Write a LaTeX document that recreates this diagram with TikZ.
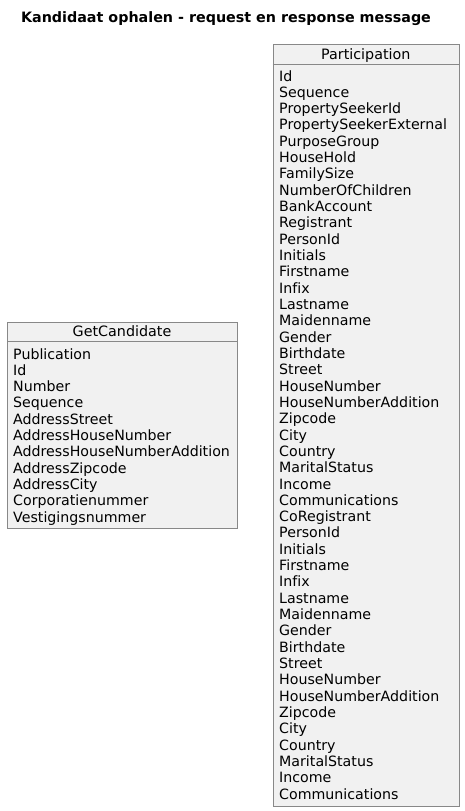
\documentclass[tikz,border=0pt]{standalone}
\usepackage{fontspec}
\setmainfont[Ligatures=CommonOff]{DejaVu Sans}
\usetikzlibrary{positioning}
\definecolor{objfill}{HTML}{F1F1F1}
\definecolor{objborder}{HTML}{888888}

\begin{document}
\begin{tikzpicture}[x=1pt,y=-1pt,
    objbox/.style={draw=objborder,fill=objfill,line width=0.9pt,inner sep=0,anchor=north west},
    objname/.style={inner sep=0,anchor=base,font=\fontsize{14.3}{17}\selectfont},
    attr/.style={inner sep=0,anchor=base west,font=\fontsize{14.2}{17}\selectfont},
    heading/.style={inner sep=0,anchor=base,font=\fontsize{14.3}{17}\selectfont\bfseries}]
  \useasboundingbox (0,0) rectangle (465,811);

  \node[heading] (title) at (226,23) {Kandidaat ophalen - request en response message};

  % request object
  \node[objbox,minimum width=230,minimum height=206.5] (getcand) at (7,321.5) {};
  \draw[objborder,line width=0.9pt] (getcand.north west) ++(0,20) -- ++(230,0);
  \node[objname] (getcand-name) at (122,336) {GetCandidate};
  \foreach \attr [count=\i from 0] in {Publication,Id,Number,Sequence,AddressStreet,
      AddressHouseNumber,AddressHouseNumberAddition,AddressZipcode,AddressCity,
      Corporatienummer,Vestigingsnummer}
    \node[attr] (getcand-\i) at (13,{359+16.3*\i}) {\attr};

  % response object
  \node[objbox,minimum width=186.5,minimum height=762.5] (particip) at (272.5,43.5) {};
  \draw[objborder,line width=0.9pt] (particip.north west) ++(0,20.5) -- ++(186.5,0);
  \node[objname] (particip-name) at (365.75,59.5) {Participation};
  \foreach \attr [count=\i from 0] in {Id,Sequence,PropertySeekerId,PropertySeekerExternal,
      PurposeGroup,HouseHold,FamilySize,NumberOfChildren,BankAccount,Registrant,
      PersonId,Initials,Firstname,Infix,Lastname,Maidenname,Gender,Birthdate,Street,
      HouseNumber,HouseNumberAddition,Zipcode,City,Country,MaritalStatus,Income,
      Communications,CoRegistrant,PersonId,Initials,Firstname,Infix,Lastname,
      Maidenname,Gender,Birthdate,Street,HouseNumber,HouseNumberAddition,Zipcode,
      City,Country,MaritalStatus,Income,Communications}
    \node[attr] (particip-\i) at (279,{81+16.32*\i}) {\attr};
\end{tikzpicture}
\end{document}
